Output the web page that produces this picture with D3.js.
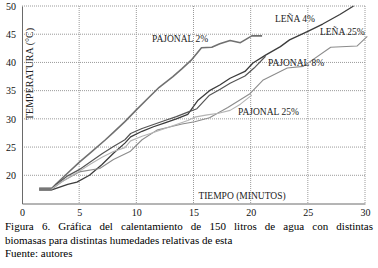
<!DOCTYPE html>
<html><head><meta charset="utf-8">
<script src="https://cdn.jsdelivr.net/npm/d3@7"></script>
<style>
html,body{margin:0;padding:0;background:#fff;}
#cap{position:absolute;left:5px;top:220px;width:368px;font-family:"Liberation Serif","Times New Roman",serif;font-size:11px;line-height:13.5px;color:#000;text-align:justify;}
#cap .l1{text-align:justify;text-align-last:justify;display:block;}
</style></head>
<body>
<svg id="chart" width="378" height="219" style="position:absolute;left:0;top:0;overflow:visible"></svg>
<div id="cap"><span class="l1">Figura 6. Gráfica del calentamiento de 150 litros de agua con distintas</span>biomasas para distintas humedades relativas de esta<br>Fuente: autores</div>
<script>
const xTicks = [0,5,10,15,20,25,30];
const yTicks = [20,25,30,35,40,45,50];
const seriesNames = ["PAJONAL 2%","LEÑA 4%","PAJONAL 8%","LEÑA 25%","PAJONAL 25%"];
const pajonal2 = [[1.5,17.6],[2.6,17.6],[3,18.5],[4,20.4],[5,22.3],[6,24],[7.3,26.3],[8,27.6],[9,29.5],[10,31.6],[11,33.6],[12,35.6],[13.2,37.5],[14,38.9],[14.8,40.4],[15.7,42.6],[16.6,42.7],[17.3,43.3],[18.2,43.9],[19.1,43.5],[20.1,44.7],[21,44.7]];
const lena4 = [[1.5,17.4],[2.6,17.4],[4,18.4],[4.8,18.8],[5.9,20],[7,21.9],[8,23.9],[9,25.7],[9.5,26.8],[10.5,27.8],[11.5,28.6],[12.5,29.3],[13.5,30],[14.5,30.8],[15.4,33.3],[16.4,35],[17.3,36],[18.2,37.2],[19.5,38.4],[20.2,39.9],[21.3,41.3],[22.6,42.8],[23.4,44],[25,45.5],[26.3,46.8],[27.8,48.5],[29,50]];
const pajonal8 = [[1.5,17.7],[2.6,17.7],[3,18.4],[4,19.9],[5,21],[6,22.4],[7,23.8],[8,25.1],[9,26.3],[9.5,27.4],[10.5,28.3],[11.5,29],[12.5,29.7],[13.5,30.4],[14.5,31.2],[15.3,31.8],[16.4,34.2],[17.3,35.2],[18.2,36.3],[19.5,37.6],[20.3,39],[21.3,41.1]];
const lena25 = [[1.5,17.5],[2.6,17.5],[3.5,18.9],[5,20.6],[6.8,21.2],[8,22.8],[9.45,24.2],[10.5,26.3],[11.8,28],[13,28.6],[14,29.1],[15.1,29.5],[16.4,30.2],[18,32],[19.9,34.4],[21.1,36.9],[23.2,39],[24.6,39.3],[27,42.7],[29.3,42.9],[30.2,44.6]];
const pajonal25 = [[1.5,17.6],[2.6,17.6],[3,18.2],[4,19.5],[5,20.7],[6,22],[7,23.2],[8,24.2],[9,24.9],[9.5,26.1],[10.5,26.9],[11.5,27.6],[12.5,28.3],[13.5,29],[14.5,29.7],[15.1,30.3],[16.2,30.7],[17.2,31],[18.2,31.5],[19.1,32.6],[20.1,34.2]];
const seriesData = [pajonal2, lena4, pajonal8, lena25, pajonal25];
const seriesColors = ["#707070","#3c3c3c","#555555","#8c8c8c","#b4b4b4"];
const seriesWidths = [1.6,1.3,1.2,1.1,1.1];
const labelPos = [[152,42],[275,22],[268,66],[320,35],[238,115]];
const labelOrder = [0,1,2,3,4];

const svg = d3.select("#chart");
const x = d3.scaleLinear().domain([0,30]).range([22,365]);
const y = d3.scaleLinear().domain([15,50]).range([203.5,6]);
const font = "'Liberation Serif','Times New Roman',serif";

// grid
const g = svg.append("g");
g.selectAll(".hg").data(yTicks).join("line")
  .attr("x1",x(0)).attr("x2",x(30)).attr("y1",d=>y(d)).attr("y2",d=>y(d))
  .attr("stroke","#9a9a9a").attr("stroke-width",1).attr("stroke-dasharray","1,1");
g.selectAll(".vg").data(xTicks.filter(d=>d>0)).join("line")
  .attr("x1",d=>x(d)).attr("x2",d=>x(d)).attr("y1",y(50)).attr("y2",y(15))
  .attr("stroke","#9a9a9a").attr("stroke-width",1).attr("stroke-dasharray","1,1");

// axes
const xAxis = d3.axisBottom(x).tickValues(xTicks).tickSize(0).tickPadding(5);
const ax = svg.append("g").attr("transform",`translate(0,${y(15)})`).call(xAxis);
ax.select(".domain").attr("stroke","#6a6a6a");
ax.selectAll("text").attr("font-family",font).attr("font-size",10).attr("fill","#111");
const yAxis = d3.axisLeft(y).tickValues(yTicks).tickSize(0).tickPadding(6);
const ay = svg.append("g").attr("transform",`translate(${x(0)},0)`).call(yAxis);
ay.select(".domain").attr("stroke","#6a6a6a");
ay.selectAll("text").attr("font-family",font).attr("font-size",10).attr("fill","#111");

// lines
const line = d3.line().x(d=>x(d[0])).y(d=>y(d[1]));
seriesData.forEach((s,i)=>{
  svg.append("path").datum(s).attr("d",line).attr("fill","none")
    .attr("stroke",seriesColors[i]).attr("stroke-width",seriesWidths[i]).attr("stroke-linejoin","round");
});
// common thick start
svg.append("path").datum([[1.5,17.55],[2.6,17.55]]).attr("d",line)
  .attr("stroke","#777").attr("stroke-width",3.2).attr("fill","none");

// axis titles
svg.append("text").attr("transform",`translate(33,${74}) rotate(-90)`)
  .attr("text-anchor","middle").attr("font-family",font).attr("font-size",10)
  .attr("fill","#222").text("TEMPERATURA (°C)");
svg.append("text").attr("x",242).attr("y",199).attr("text-anchor","middle")
  .attr("font-family",font).attr("font-size",9.5).attr("fill","#222").text("TIEMPO (MINUTOS)");

// series labels
labelOrder.forEach(i=>{
  svg.append("text").attr("x",labelPos[i][0]).attr("y",labelPos[i][1])
    .attr("font-family",font).attr("font-size",9.5).attr("fill","#222").text(seriesNames[i]);
});
</script>
</body></html>
